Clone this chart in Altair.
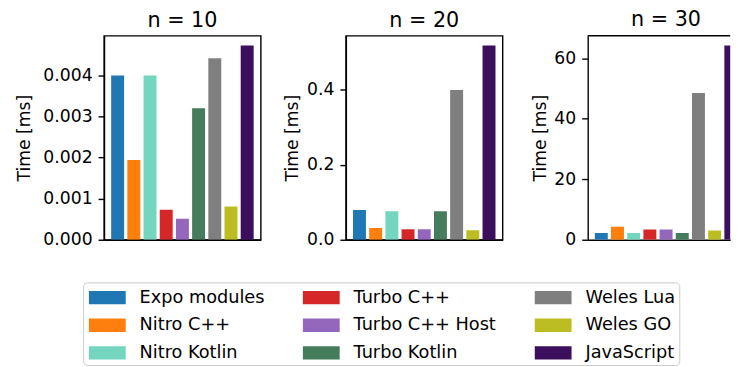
import altair as alt
import pandas as pd

# ---- data ----
categories = ["Expo modules", "Nitro C++", "Nitro Kotlin", "Turbo C++", "Turbo C++ Host",
              "Turbo Kotlin", "Weles Lua", "Weles GO", "JavaScript"]
colors = ["#1f77b4", "#ff7f0e", "#74d6bf", "#d62728", "#9467bd",
          "#447c5c", "#7f7f7f", "#bcbd22", "#3b0f5c"]
time_n10 = [0.0040, 0.00194, 0.0040, 0.00073, 0.00051, 0.0032, 0.00442, 0.00081, 0.00473]
time_n20 = [0.079, 0.031, 0.0757, 0.028, 0.028, 0.0757, 0.399, 0.025, 0.518]
time_n30 = [2.2, 4.3, 2.2, 3.4, 3.4, 2.2, 48.5, 3.07, 64.2]
panel_titles = ["n = 10", "n = 20", "n = 30"]
ticks_n10 = [0.0, 0.001, 0.002, 0.003, 0.004]
ticks_n20 = [0.0, 0.2, 0.4]
ticks_n30 = [0, 20, 40, 60]

FONT = "DejaVu Sans"
FS = 17.3
W, H = 157.5, 205
W3 = 143.2          # last panel is cut off at the right edge, as in the reference
PX_PER_UNIT = W / 9.68


def make_df(values):
    return pd.DataFrame({
        "impl": categories,
        "x0": [i - 0.4 for i in range(len(categories))],
        "x1": [i + 0.4 for i in range(len(categories))],
        "time": values,
    })


def panel(values, title, ticks, fmt, title_x, width=W):
    df = make_df(values)
    xmax = -0.84 + width / PX_PER_UNIT
    clipped = width < W
    bars = alt.Chart(df).mark_rect(clip=True).encode(
        x=alt.X("x0:Q", scale=alt.Scale(domain=[-0.84, xmax], nice=False, zero=False),
                axis=alt.Axis(labels=False, ticks=False, grid=False, title=None, domain=True)),
        x2="x1:Q",
        y=alt.Y("time:Q", scale=alt.Scale(domain=[0, max(values) * 1.05], nice=False),
                axis=alt.Axis(values=ticks, format=fmt, title="Time [ms]", titleX=title_x,
                              titleBaseline="alphabetic", grid=False)),
        y2=alt.datum(0),
        color=alt.Color("impl:N", scale=alt.Scale(domain=categories, range=colors),
                        legend=alt.Legend(title=None)),
    )
    tp = alt.TitleParams(title, fontSize=20.8, font=FONT, fontWeight="normal", color="black",
                         offset=4, anchor="middle", dx=(W - width) / 2)
    if clipped:
        top = alt.Chart(pd.DataFrame({"a": [0]})).mark_rule(color="black", strokeWidth=1.4).encode(
            y=alt.value(0), x=alt.value(0), x2=alt.value(width))
        return alt.layer(bars, top).properties(
            width=width, height=H, title=tp,
            view=alt.ViewBackground(stroke="transparent"))
    return bars.properties(width=width, height=H, title=tp)


p1 = panel(time_n10, panel_titles[0], ticks_n10, ".3f", -75)
p2 = panel(time_n20, panel_titles[1], ticks_n20, ".1f", -49)
p3 = panel(time_n30, panel_titles[2], ticks_n30, "d", -42, width=W3)

chart = alt.hconcat(p1, p2, p3, spacing=85, bounds="flush").properties(
    padding={"left": 6.5, "top": -1, "right": 0, "bottom": 0}
).configure_view(
    stroke="black", strokeWidth=1.4
).configure_axis(
    labelFont=FONT, labelFontSize=FS, labelColor="black",
    titleFont=FONT, titleFontSize=FS, titleFontWeight="normal", titleColor="black",
    tickColor="black", tickSize=6, tickWidth=1.4,
    domainColor="black", domainWidth=1.4, labelPadding=6, grid=False
).configure_legend(
    orient="none", legendX=-21, legendY=247.8, columns=3,
    symbolType="M-1.54,-0.56L1.54,-0.56L1.54,0.56L-1.54,0.56Z",
    symbolSize=576, symbolStrokeWidth=0, symbolOpacity=1,
    symbolOffset=9, labelOffset=20.4,
    labelFont=FONT, labelFontSize=17.8, labelColor="black", labelLimit=0,
    strokeColor="#cccccc", strokeWidth=1, cornerRadius=4, fillColor="white",
    padding=3.3, rowPadding=6.8, columnPadding=36
)

chart.save("out.html", embed_options={"renderer": "svg", "actions": False})
